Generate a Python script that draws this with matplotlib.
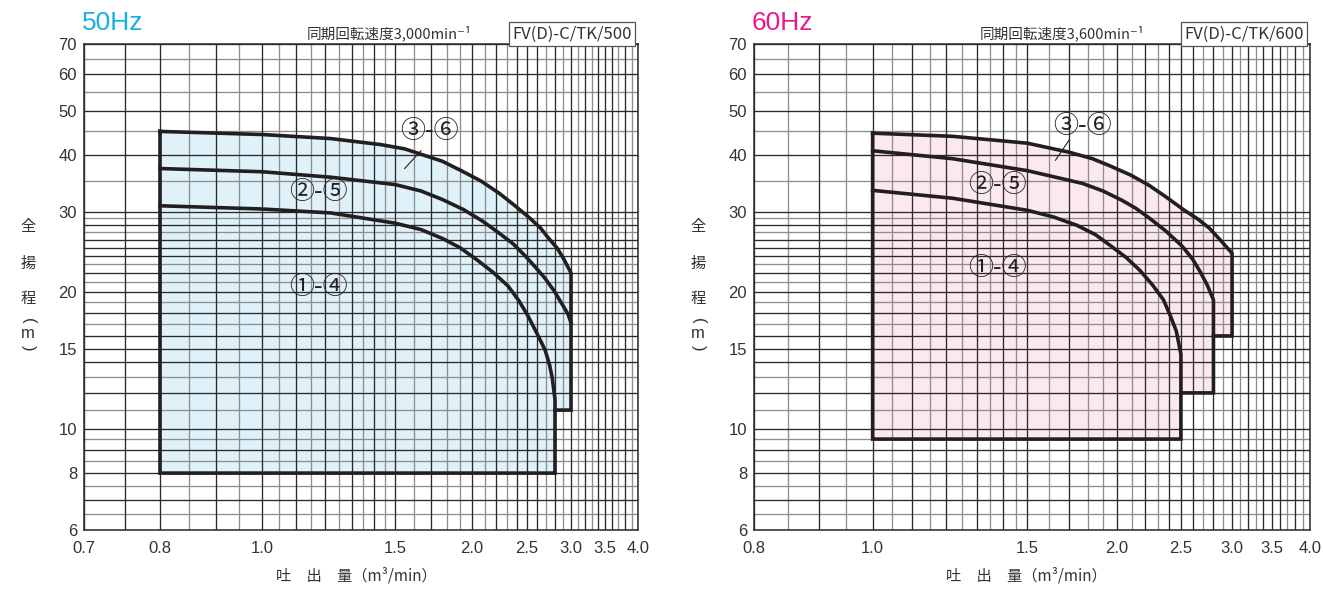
import numpy as np
import matplotlib
matplotlib.use("Agg")
import matplotlib.pyplot as plt
from matplotlib.ticker import FixedLocator, FixedFormatter, NullLocator

plt.rcParams['font.family'] = ['Liberation Sans', 'Noto Sans CJK JP', 'DejaVu Sans']
CJK = ['Noto Sans CJK JP', 'DejaVu Sans']

# flow axis of the chart paper is not a plain log scale: position of each grid value
paper_q = [0.3, 0.7, 0.75, 0.8, 0.85, 0.9, 0.95, 1.0, 1.05, 1.1, 1.15, 1.2, 1.25, 1.3, 1.35,
           1.4, 1.45, 1.5, 1.6, 1.7, 1.8, 1.9, 2.0, 2.1, 2.2, 2.3, 2.4, 2.5, 2.6, 2.7, 2.8,
           2.9, 3.0, 3.1, 3.2, 3.3, 3.4, 3.5, 3.6, 3.7, 3.8, 3.9, 4.0, 10.0]
paper_pos = [-405, 84, 125, 160, 189, 216, 239, 262, 279, 296, 311, 325, 339, 352, 363,
             374, 385, 395, 414, 431, 447, 460, 472, 485, 496, 507, 517, 527, 537, 546, 555,
             563, 571, 578, 585, 592, 598, 605, 612, 618, 625, 632, 638, 863]


def q_forward(q):
    q = np.clip(np.asarray(q, dtype=float), 1e-3, None)
    return np.interp(np.log(q), np.log(paper_q), paper_pos)


def q_inverse(p):
    return np.exp(np.interp(np.asarray(p, dtype=float), paper_pos, np.log(paper_q)))


# grid lines
q_dark = [0.7, 0.75, 0.8, 0.9, 1.0, 1.1, 1.2, 1.3, 1.4, 1.5, 1.7, 2.0, 2.2, 2.4, 2.5, 2.6,
          2.8, 3.0, 3.2, 3.4, 3.5, 3.6, 3.8, 4.0]
q_light = [0.85, 0.95, 1.05, 1.15, 1.25, 1.35, 1.45, 1.6, 1.8, 1.9, 2.1, 2.3, 2.7, 2.9,
           3.1, 3.3, 3.7, 3.9]
h_dark = [6, 7, 8, 9, 10, 12, 14, 15, 16, 18, 20, 22, 24, 25, 26, 28, 30, 40, 50, 60, 70]
h_light = [6.5, 7.5, 8.5, 9.5, 11, 13, 17, 19, 21, 23, 27, 29, 35, 45, 55, 65]
h_ticks = [6, 8, 10, 15, 20, 30, 40, 50, 60, 70]

# 50 Hz  (m3/min, m)
q50_top = [0.8, 1.0, 1.22, 1.43, 1.55, 1.64, 1.77, 1.91, 2.07, 2.23, 2.38, 2.53, 2.64, 2.73, 2.83, 2.91, 3.0]
h50_top = [45.0, 44.3, 43.4, 42.1, 41.2, 40.1, 38.7, 36.9, 35.0, 32.9, 30.9, 29.0, 27.6, 26.2, 24.9, 23.6, 22.0]
q50_mid = [0.8, 1.0, 1.22, 1.5, 1.64, 1.77, 1.93, 2.08, 2.22, 2.36, 2.48, 2.58, 2.69, 2.79, 2.88, 2.96, 3.0]
h50_mid = [37.3, 36.7, 35.7, 34.4, 33.3, 31.9, 30.3, 28.6, 27.0, 25.5, 24.0, 22.7, 21.4, 20.1, 18.9, 17.9, 17.1]
q50_low = [0.8, 1.0, 1.22, 1.5, 1.64, 1.77, 1.9, 2.03, 2.17, 2.31, 2.42, 2.51, 2.6, 2.69, 2.74, 2.77, 2.8, 2.8]
h50_low = [30.9, 30.4, 29.8, 28.3, 27.4, 26.2, 25.0, 23.6, 22.1, 20.6, 19.1, 17.7, 16.2, 14.9, 13.8, 12.9, 11.6, 11.0]
q50_edge = [3.0, 3.0, 2.8, 2.8, 0.8]
h50_edge = [22.0, 11.0, 11.0, 8.0, 8.0]

# 60 Hz
q60_top = [1.0, 1.22, 1.5, 1.7, 1.83, 1.95, 2.09, 2.23, 2.38, 2.53, 2.65, 2.76, 2.88, 3.0]
h60_top = [44.6, 43.9, 42.4, 40.5, 39.2, 37.8, 36.1, 34.3, 32.2, 30.2, 28.9, 27.6, 25.9, 24.3]
q60_mid = [1.0, 1.22, 1.5, 1.77, 1.9, 2.03, 2.13, 2.23, 2.37, 2.51, 2.6, 2.67, 2.74, 2.8, 2.8]
h60_mid = [40.8, 39.2, 36.9, 34.6, 33.3, 31.8, 30.5, 29.1, 27.2, 25.2, 23.6, 22.2, 20.7, 19.2, 16.0]
q60_low = [1.0, 1.22, 1.5, 1.62, 1.74, 1.85, 1.95, 2.06, 2.16, 2.26, 2.35, 2.41, 2.46, 2.5, 2.5]
h60_low = [33.4, 32.1, 30.2, 29.2, 28.0, 26.7, 25.3, 23.8, 22.3, 20.7, 19.2, 17.7, 16.4, 14.6, 12.0]
q60_edge = [3.0, 3.0, 2.8, 2.8, 2.5, 2.5, 1.0]
h60_edge = [24.3, 16.0, 16.0, 12.0, 12.0, 9.5, 9.5]

W, H = 1323, 590
fig = plt.figure(figsize=(W / 100, H / 100), dpi=100)


def panel(left, right, q_lo, q_ticks, top, mid, low, edge, fill, hz, hz_color,
          speed, model, lab36, lab25, lab14, leader):
    ax = fig.add_axes([left / W, 1 - 530 / H, (right - left) / W, 486 / H])
    ax.set_xscale('function', functions=(q_forward, q_inverse))
    ax.set_yscale('log')
    ax.set_xlim(q_lo, 4.0)
    ax.set_ylim(6, 70)

    ax.vlines(q_light, 0, 1, transform=ax.get_xaxis_transform(), colors='#8e8e8e', lw=0.95, zorder=2)
    ax.hlines(h_light, 0, 1, transform=ax.get_yaxis_transform(), colors='#8e8e8e', lw=0.95, zorder=2)
    ax.vlines(q_dark, 0, 1, transform=ax.get_xaxis_transform(), colors='#2a2a2a', lw=0.95, zorder=2.1)
    ax.hlines(h_dark, 0, 1, transform=ax.get_yaxis_transform(), colors='#2a2a2a', lw=0.95, zorder=2.1)

    q_out = list(top[0]) + list(edge[0])
    h_out = list(top[1]) + list(edge[1])
    ax.fill(q_out, h_out, color=fill, lw=0, zorder=1)
    ax.plot(q_out + [q_out[0]], h_out + [h_out[0]], color='#231f20', lw=2.6,
            solid_joinstyle='miter', zorder=3)
    for q, h in (mid, low):
        ax.plot(q, h, color='#231f20', lw=2.6, zorder=3)

    ax.xaxis.set_major_locator(FixedLocator(q_ticks))
    ax.xaxis.set_major_formatter(FixedFormatter([f'{v:.1f}' for v in q_ticks]))
    ax.xaxis.set_minor_locator(NullLocator())
    ax.yaxis.set_major_locator(FixedLocator(h_ticks))
    ax.yaxis.set_major_formatter(FixedFormatter([str(v) for v in h_ticks]))
    ax.yaxis.set_minor_locator(NullLocator())
    ax.tick_params(length=0, labelsize=12, colors='#333333')
    ax.tick_params(axis='x', pad=8)
    ax.tick_params(axis='y', pad=5)
    for s in ax.spines.values():
        s.set_color('#2a2a2a')
        s.set_linewidth(1.1)
        s.set_zorder(4)

    # curve numbers
    for (q, h, txt) in (lab36, lab25, lab14):
        ax.text(q, h, txt, family=CJK, fontsize=18, ha='center', va='center',
                color='#231f20', zorder=5)
    ax.plot(leader[0], leader[1], color='#231f20', lw=0.8, zorder=5)

    # titles
    fig.text((left - 2) / W, 1 - 23 / H, hz, fontsize=19, color=hz_color, va='center', ha='left')
    fig.text((right - 166) / W, 1 - 33 / H, speed, family=CJK, fontsize=10.5,
             color='#333333', va='center', ha='right')
    fig.text((right - 66) / W, 1 - 34 / H, model, family=CJK, fontsize=12,
             color='#333333', va='center', ha='center',
             bbox=dict(boxstyle='square,pad=0.22', fc='white', ec='#555555', lw=0.9))

    # axis titles
    xc = left - 56
    for y, ch in ((226, '全'), (263, '揚'), (298, '程')):
        fig.text(xc / W, 1 - y / H, ch, family=CJK, fontsize=11, color='#333333',
                 ha='center', va='center')
    fig.text(xc / W, 1 - 321 / H, '(', fontsize=12, rotation=-90, color='#333333',
             ha='center', va='center')
    fig.text(xc / W, 1 - 334 / H, 'm', fontsize=12, color='#333333', ha='center', va='center')
    fig.text(xc / W, 1 - 348 / H, ')', fontsize=12, rotation=-90, color='#333333',
             ha='center', va='center')
    fig.text((left + 272) / W, 1 - 576 / H, '吐　出　量（m³/min）', family=CJK,
             fontsize=11, color='#333333', ha='center', va='center')
    return ax


panel(84, 638, 0.7, [0.7, 0.8, 1.0, 1.5, 2.0, 2.5, 3.0, 3.5, 4.0],
      (q50_top, h50_top), (q50_mid, h50_mid), (q50_low, h50_low), (q50_edge, h50_edge),
      '#dff1f9', '50Hz', '#18aee6', '同期回転速度3,000min⁻¹', 'FV(D)-C/TK/500',
      (1.69, 45.0, '③-⑥'), (1.175, 33.1, '②-⑤'), (1.175, 20.5, '①-④'),
      ([1.64, 1.55], [40.8, 37.3]))

panel(754, 1310, 0.8, [0.8, 1.0, 1.5, 2.0, 2.5, 3.0, 3.5, 4.0],
      (q60_top, h60_top), (q60_mid, h60_mid), (q60_low, h60_low), (q60_edge, h60_edge),
      '#fce8f0', '60Hz', '#e8198b', '同期回転速度3,600min⁻¹', 'FV(D)-C/TK/600',
      (1.77, 46.2, '③-⑥'), (1.38, 34.3, '②-⑤'), (1.38, 22.6, '①-④'),
      ([1.70, 1.63], [43.1, 38.9]))

fig.savefig('out.png', dpi=100)
